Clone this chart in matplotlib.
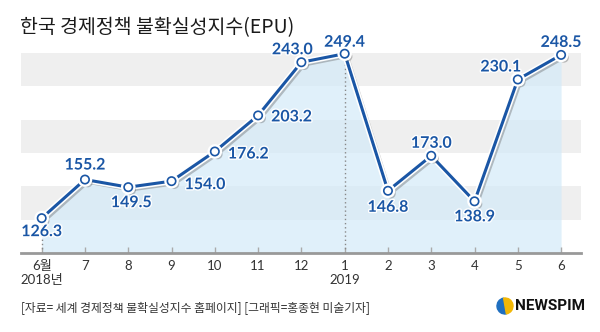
import matplotlib
matplotlib.use("Agg")
import matplotlib.pyplot as plt
import matplotlib.patheffects as pe
from matplotlib.patches import Wedge

plt.rcParams['font.family'] = ['Lato', 'Noto Sans CJK KR', 'DejaVu Sans']

months = ["6월\n2018년", "7", "8", "9", "10", "11", "12", "1\n2019", "2", "3", "4", "5", "6"]
epu = [126.3, 155.2, 149.5, 154.0, 176.2, 203.2, 243.0, 249.4, 146.8, 173.0, 138.9, 230.1, 248.5]
# label offsets in pixels (dx, dy) and alignment
label_dx = [0, 0, 3, 13, 13, 13, -9, 0, 0, 0, 0, -17, 0]
label_dy = [-14, 14, -16, -4, -3, -2, 12, 11, -17, 12, -16, 12, 12]
label_ha = ["center", "center", "center", "left", "left", "left", "center",
            "center", "center", "center", "center", "center", "center"]

BLUE = "#1a56a5"


def main():
    fig = plt.figure(figsize=(6.0, 3.32), dpi=100)
    ax = fig.add_axes([20.7 / 600, 1 - 253.3 / 332, (581 - 20.7) / 600, (253.3 - 30) / 332])
    x = list(range(len(epu)))

    ax.set_xlim(-0.485, 12.46)
    ax.set_ylim(100, 100 + (253.3 - 30) / 1.336)

    for lo in (125, 175, 225):
        ax.axhspan(lo, lo + 25, color="#efefef", lw=0, zorder=0)

    ax.fill_between(x, epu, 100, color="#d3eaf8", alpha=0.7, lw=0, zorder=1)

    for i in (0, 7):
        ax.plot([i, i], [100, epu[i]], color="#888888", lw=1, ls=(0, (1, 2)), zorder=2)

    ax.plot(x, epu, color=BLUE, lw=2.2, marker="o", ms=6, mfc="white", mec=BLUE, mew=1.2,
            zorder=3,
            path_effects=[pe.SimpleLineShadow(offset=(2, -2), shadow_color="#555555", alpha=0.35),
                          pe.Stroke(linewidth=4.5, foreground="white"), pe.Normal()])

    for i, v in enumerate(epu):
        ax.annotate(f"{v:.1f}", (i, v), xytext=(label_dx[i], label_dy[i]),
                    textcoords="offset pixels", ha=label_ha[i], va="center",
                    fontsize=11.5, fontweight="bold", color=BLUE, zorder=4,
                    annotation_clip=False,
                    path_effects=[pe.withStroke(linewidth=2, foreground="white")])

    for s in ("top", "right", "left"):
        ax.spines[s].set_visible(False)
    ax.spines["bottom"].set_color("#999999")
    ax.spines["bottom"].set_linewidth(2)
    ax.set_yticks([])
    ax.set_xticks(x)
    ax.set_xticklabels(months, fontsize=9.5, color="#333333", linespacing=1.2)
    ax.tick_params(axis="x", direction="in", length=4, width=1, color="#aaaaaa", pad=5)

    fig.text(20 / 600, 1 - 27.8 / 332, "한국 경제정책 불확실성지수(EPU)", fontsize=14,
             color="#1a1a1a", va="center", ha="left", family=["Noto Sans CJK KR"])
    fig.text(21 / 600, 1 - 308 / 332, "[자료= 세계 경제정책 불확실성지수 홈페이지] [그래픽=홍종현 미술기자]",
             fontsize=8.5, color="#333333", va="center", ha="left", family=["Noto Sans CJK KR"])

    # NEWSPIM logo
    lax = fig.add_axes([490 / 600, 1 - 318 / 332, 30 / 600, 24 / 332])
    lax.set_xlim(0, 30)
    lax.set_ylim(0, 24)
    lax.set_aspect("equal")
    lax.axis("off")
    lax.add_patch(Wedge((15, 12), 8, 100, 280, color="#1f6fc0"))
    lax.add_patch(Wedge((15, 12), 8, -80, 100, color="#f2b705"))
    fig.text(515 / 600, 1 - 306 / 332, "NEWSPIM", fontsize=11, fontweight="bold",
             color="#111111", va="center", ha="left", family=["Roboto"])

    fig.savefig("out.png", dpi=100)


if __name__ == "__main__":
    main()
